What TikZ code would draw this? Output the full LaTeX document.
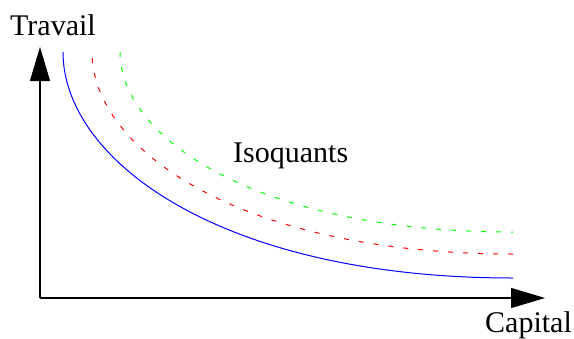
\documentclass[tikz,border=0pt]{standalone}
\usepackage{fontspec}
\setmainfont{Liberation Serif}
\usetikzlibrary{arrows.meta}
\begin{document}
\begin{tikzpicture}[x=1pt,y=-1pt,
  axis/.style={line width=1.2pt,-{Triangle[length=34pt,width=20pt]}},
  lbl/.style={inner sep=0pt,anchor=base west,font=\fontsize{30}{36}\selectfont},
  iso/.style={line width=1pt},
  isodash/.style={line width=1pt,dash pattern=on 5pt off 10pt}]
\useasboundingbox (0,0) rectangle (574,338);
\coordinate (o) at (40,298);
\coordinate (ytip) at (40,47);
\coordinate (xtip) at (545,298);
\draw[axis] (o) -- (ytip);
\draw[axis] (o) -- (xtip);
\node[lbl] (travail) at (10,35) {Travail};
\node[lbl] (capital) at (485,332) {Capital};
\node[lbl] (isoquants) at (233,162) {Isoquants};
\coordinate (b0) at (63,52);
\coordinate (b1) at (513,278);
\coordinate (r0) at (92,52);
\coordinate (r1) at (513,254);
\coordinate (g0) at (120,52);
\coordinate (g1) at (513,232);
\draw[iso,blue] (b0) .. controls (63,160) and (220,278) .. (b1);
\draw[isodash,red,dash phase=9pt] (r0) .. controls (92,149) and (239,254) .. (r1);
\draw[isodash,green] (g0) .. controls (120,138) and (257,232) .. (g1);
\end{tikzpicture}
\end{document}
